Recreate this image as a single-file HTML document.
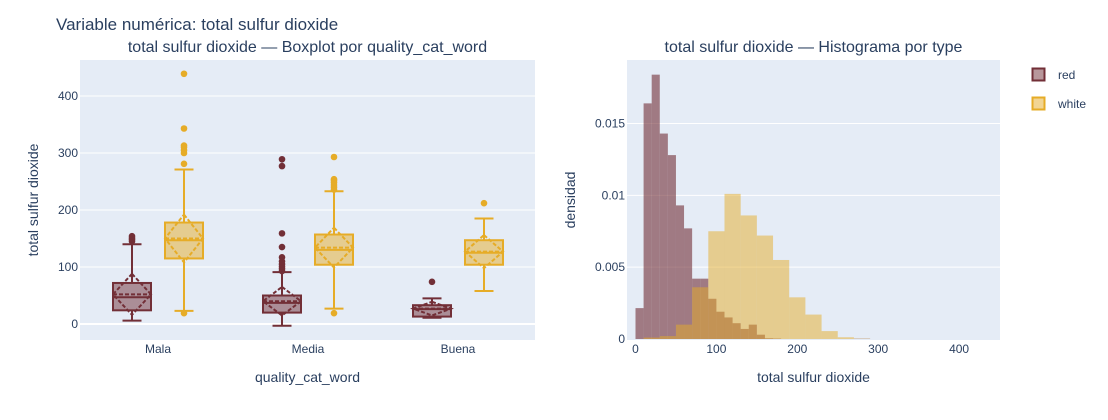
<!DOCTYPE html>
<html><head><meta charset="utf-8">
<style>
body{margin:0;background:#fff;}
svg{display:block;font-family:"Liberation Sans",Arial,sans-serif;}
</style></head>
<body>
<svg id="chart" width="1108" height="420" xmlns="http://www.w3.org/2000/svg">
<rect width="1108" height="420" fill="#fff"/>
<text x="56" y="30" font-size="17" fill="#2a3f5f">Variable numérica: total sulfur dioxide</text>
<text x="307.5" y="52" font-size="16" fill="#2a3f5f" text-anchor="middle">total sulfur dioxide — Boxplot por quality_cat_word</text>
<text x="813.5" y="52" font-size="16" fill="#2a3f5f" text-anchor="middle">total sulfur dioxide — Histograma por type</text>
<rect x="80" y="60" width="455" height="280" fill="#E5ECF6"/>
<rect x="627" y="60" width="373" height="280" fill="#E5ECF6"/>
<g id="g1"></g><g id="g2"></g>
<text x="307.5" y="382" font-size="14" fill="#2a3f5f" text-anchor="middle">quality_cat_word</text>
<text x="38" y="200" font-size="14" fill="#2a3f5f" text-anchor="middle" transform="rotate(-90 38 200)">total sulfur dioxide</text>
<text x="813.5" y="382" font-size="14" fill="#2a3f5f" text-anchor="middle">total sulfur dioxide</text>
<text x="575" y="200" font-size="14" fill="#2a3f5f" text-anchor="middle" transform="rotate(-90 575 200)">densidad</text>
<g>
<rect x="1032.5" y="68.5" width="12" height="12" fill="rgba(114,47,55,0.5)" stroke="#722F37" stroke-width="2"/>
<text x="1058" y="79" font-size="12" fill="#2a3f5f">red</text></g>
<g>
<rect x="1032.5" y="97.5" width="12" height="12" fill="rgba(230,172,39,0.5)" stroke="#E6AC27" stroke-width="2"/>
<text x="1058" y="108" font-size="12" fill="#2a3f5f">white</text></g>
</svg>
<script>
const NS="http://www.w3.org/2000/svg";
const RED="#722F37", YEL="#E6AC27";
// Boxplot data
const categories=["Mala","Media","Buena"];
const redQ1=[24,20,13], redMed=[47,37,26], redQ3=[72,50,33], redLo=[6,-3,11], redHi=[140,91,45], redMean=[52,40,27], redSd=[36,25,12];
const whiteQ1=[115,104,104], whiteMed=[147,130,125], whiteQ3=[178,157,147], whiteLo=[23,27,58], whiteHi=[271,233,185], whiteMean=[150,134,127], whiteSd=[42,35,29];
const redOutliers=[[145,148,151,154],[289,277,159,135,93,97,101,105,110,117],[74]];
const whiteOutliers=[[439,343,300,305,310,313,281,19],[293,236,240,244,248,252,254,19],[212]];
const yTicks1=[0,100,200,300,400];
// Histogram data
const redBinStart=[0,10,20,30,40,50,60,70,80,90,100,110,120,130,140,150,160,170,270,280];
const redDensity=[0.00215,0.0164,0.0184,0.0143,0.0128,0.0093,0.0077,0.0042,0.0042,0.0028,0.0019,0.0015,0.0011,0.0007,0.001,0.0003,0.00005,0.00003,0.00002,0.00002];
const redBinWidth=10;
const whiteBinStart=[10,30,50,70,90,110,130,150,170,190,210,230,250,270];
const whiteDensity=[0.0001,0.0002,0.001,0.0036,0.0075,0.0101,0.0086,0.0072,0.0055,0.0029,0.0017,0.00055,0.00012,0.00002];
const whiteBinWidth=20;
const xTicks2=[0,100,200,300,400];
const yTicks2=[0,0.005,0.01,0.015];
const yTickLabels2=["0","0.005","0.01","0.015"];

function el(t,a,p){const e=document.createElementNS(NS,t);for(const k in a)e.setAttribute(k,a[k]);p.appendChild(e);return e;}
const g1=document.getElementById('g1'), g2=document.getElementById('g2');
// axes 1
const y1=v=>324-v*0.57;
const xc=i=>158+i*150;
yTicks1.forEach(v=>{
  const l=el('line',{x1:80,x2:535,y1:y1(v),y2:y1(v),stroke:'#fff','stroke-width':v===0?2:1},g1);
  
  
  const t=el('text',{x:78,y:y1(v)+4,'font-size':12,fill:'#2a3f5f','text-anchor':'end'},g1);t.textContent=v;
  
  
});
categories.forEach((c,i)=>{
  const t=el('text',{x:xc(i),y:353,'font-size':12,fill:'#2a3f5f','text-anchor':'middle'},g1);t.textContent=c;
  
  
});
function box(i,cx,col,fill,q1,med,q3,lo,hi,mean,sd,outs,name){
  const g=el('g',{},g1);
  
  
  const w=19;
  el('line',{x1:cx,x2:cx,y1:y1(q3),y2:y1(hi),stroke:col,'stroke-width':2},g);
  el('line',{x1:cx,x2:cx,y1:y1(q1),y2:y1(lo),stroke:col,'stroke-width':2},g);
  el('line',{x1:cx-9.5,x2:cx+9.5,y1:y1(hi),y2:y1(hi),stroke:col,'stroke-width':2},g);
  el('line',{x1:cx-9.5,x2:cx+9.5,y1:y1(lo),y2:y1(lo),stroke:col,'stroke-width':2},g);
  el('rect',{x:cx-w,y:y1(q3),width:2*w,height:y1(q1)-y1(q3),fill:fill,stroke:col,'stroke-width':2},g);
  el('line',{x1:cx-w,x2:cx+w,y1:y1(med),y2:y1(med),stroke:col,'stroke-width':2},g);
  el('line',{x1:cx-w,x2:cx+w,y1:y1(mean),y2:y1(mean),stroke:col,'stroke-width':2,'stroke-dasharray':'4,2'},g);
  el('polygon',{points:`${cx},${y1(mean+sd)} ${cx+w},${y1(mean)} ${cx},${y1(mean-sd)} ${cx-w},${y1(mean)}`,fill:'none',stroke:col,'stroke-width':2,'stroke-dasharray':'4,2'},g);
  outs.forEach(v=>{
    const c=el('circle',{cx:cx,cy:y1(v),r:3.3,fill:col},g);
    
    
  });
}
categories.forEach((c,i)=>{
  box(i,xc(i)-26,RED,'rgba(114,47,55,0.5)',redQ1[i],redMed[i],redQ3[i],redLo[i],redHi[i],redMean[i],redSd[i],redOutliers[i],'box-red-'+c.toLowerCase());
  box(i,xc(i)+26,YEL,'rgba(230,172,39,0.5)',whiteQ1[i],whiteMed[i],whiteQ3[i],whiteLo[i],whiteHi[i],whiteMean[i],whiteSd[i],whiteOutliers[i],'box-white-'+c.toLowerCase());
});
// axes 2
const x2=v=>635.5+v*0.809;
const y2=v=>339-v*14367;
yTicks2.forEach((v,i)=>{
  if(v>0){const l=el('line',{x1:627,x2:1000,y1:y2(v),y2:y2(v),stroke:'#fff','stroke-width':1},g2);
  
  }
  const t=el('text',{x:625,y:y2(v)+4,'font-size':12,fill:'#2a3f5f','text-anchor':'end'},g2);t.textContent=yTickLabels2[i];
  
  
});
xTicks2.forEach(v=>{
  const t=el('text',{x:x2(v),y:353,'font-size':12,fill:'#2a3f5f','text-anchor':'middle'},g2);t.textContent=v;
  
  
});
redBinStart.forEach((s,i)=>{
  const r=el('rect',{x:x2(s),y:y2(redDensity[i]),width:x2(s+redBinWidth)-x2(s),height:y2(0)-y2(redDensity[i]),fill:RED,'fill-opacity':0.6},g2);
  
  
});
whiteBinStart.forEach((s,i)=>{
  const r=el('rect',{x:x2(s),y:y2(whiteDensity[i]),width:x2(s+whiteBinWidth)-x2(s),height:y2(0)-y2(whiteDensity[i]),fill:YEL,'fill-opacity':0.5},g2);
  
  
});
</script>
</body></html>
